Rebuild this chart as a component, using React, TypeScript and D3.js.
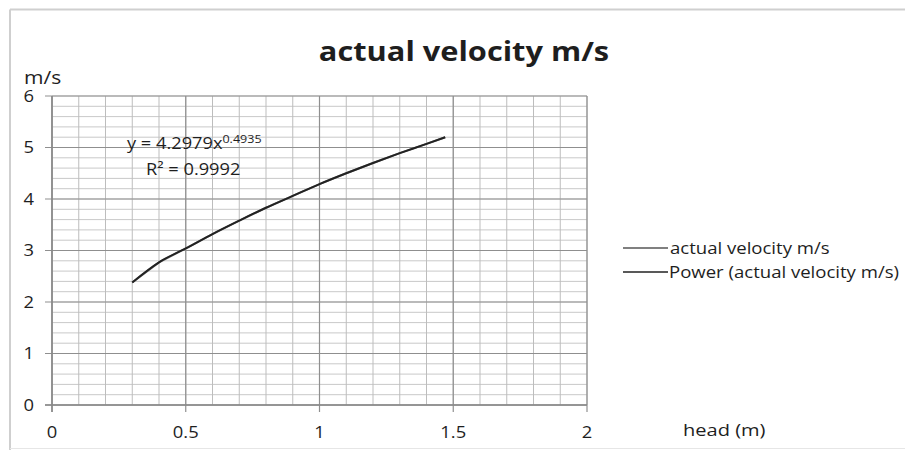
import React from "react";
import * as d3 from "d3";

const headM = [0.3, 0.4, 0.5, 0.6, 0.7, 0.8, 0.9, 1.0, 1.1, 1.2, 1.3, 1.4, 1.47];
const velocity = [2.38, 2.77, 3.04, 3.32, 3.58, 3.83, 4.06, 4.29, 4.5, 4.7, 4.89, 5.07, 5.2];
const xTicks = [0, 0.5, 1, 1.5, 2];
const yTicks = [0, 1, 2, 3, 4, 5, 6];
const xMinor = d3.range(0, 21).map((i) => i / 10);
const yMinor = d3.range(0, 31).map((i) => i / 5);
const seriesNames = ["actual velocity m/s", "Power (actual velocity m/s)"];

const FONT = "'Open Sans', Lato, sans-serif";

function T(props: {
  x: number;
  y: number;
  sx?: number;
  size: number;
  anchor?: string;
  weight?: string;
  children: React.ReactNode;
}) {
  const { x, y, sx = 1.15, size, anchor = "start", weight = "normal", children } = props;
  return (
    <text
      transform={`translate(${x},${y}) scale(${sx},1)`}
      textAnchor={anchor}
      fontSize={size}
      fontWeight={weight}
      fill="#1e1e1e"
    >
      {children}
    </text>
  );
}

export default function App() {
  const x = d3.scaleLinear().domain([0, 2]).range([52, 587]);
  const y = d3.scaleLinear().domain([0, 6]).range([405, 96]);
  const pts = headM.map((h, i) => [h, velocity[i]] as [number, number]);
  const line = d3
    .line<[number, number]>()
    .x((d) => x(d[0]))
    .y((d) => y(d[1]));
  const trend = d3
    .line<[number, number]>()
    .x((d) => x(d[0]))
    .y((d) => y(d[1]))
    .curve(d3.curveMonotoneX);

  return (
    <svg
      width={905}
      height={450}
      style={{ position: "absolute", left: 0, top: 0, background: "#fff" }}
      fontFamily={FONT}
    >
      <rect x={0} y={0} width={905} height={450} fill="#fff" />
      {/* chart area border */}
      <line x1={10} y1={9.5} x2={905} y2={9.5} stroke="#cfcfcf" strokeWidth={2} />
      <line x1={10} y1={9.5} x2={10} y2={450} stroke="#cfcfcf" strokeWidth={2} />
      <line x1={10} y1={448.5} x2={905} y2={448.5} stroke="#e6e6e6" strokeWidth={1} />

      {/* title */}
      <T x={464} y={61} size={27} sx={1.14} anchor="middle" weight="bold">
        actual velocity m/s
      </T>

      {/* minor grid */}
      {yMinor.map((v) => (
        <line key={"ym" + v} x1={x(0)} x2={x(2)} y1={y(v)} y2={y(v)} stroke="#c9c9c9" strokeWidth={1} />
      ))}
      {xMinor.map((v) => (
        <line key={"xm" + v} x1={x(v)} x2={x(v)} y1={y(0)} y2={y(6)} stroke="#bdbdbd" strokeWidth={1} />
      ))}
      {/* major grid */}
      {yTicks.map((v) => (
        <line key={"yM" + v} x1={x(0) - 7} x2={x(2)} y1={y(v)} y2={y(v)} stroke="#8f8f8f" strokeWidth={1.2} />
      ))}
      {xTicks.map((v) => (
        <line key={"xM" + v} x1={x(v)} x2={x(v)} y1={y(0) + 7} y2={y(6)} stroke="#8f8f8f" strokeWidth={1.2} />
      ))}
      {/* axes */}
      <line x1={x(0)} x2={x(0)} y1={y(0) + 7} y2={y(6)} stroke="#888" strokeWidth={1.5} />
      <line x1={x(0) - 7} x2={x(2)} y1={y(0)} y2={y(0)} stroke="#888" strokeWidth={1.5} />

      {/* tick labels */}
      {yTicks.map((v) => (
        <T key={"yl" + v} x={34} y={y(v) + 5.5} size={16} anchor="end">
          {v}
        </T>
      ))}
      {xTicks.map((v) => (
        <T key={"xl" + v} x={x(v)} y={438} size={16} anchor="middle">
          {v}
        </T>
      ))}
      <T x={24} y={84} size={18} sx={1.17}>m/s</T>
      <T x={683} y={436} size={17} sx={1.18}>head (m)</T>

      {/* data series */}
      <path d={line(pts) || ""} fill="none" stroke="#808080" strokeWidth={2} />
      <path d={trend(pts) || ""} fill="none" stroke="#222" strokeWidth={2} />

      {/* equation */}
      <T x={127} y={149} size={16} sx={1.14}>
        y = 4.2979x
        <tspan dy={-6} fontSize={11}>0.4935</tspan>
      </T>
      <T x={146} y={175} size={16} sx={1.14}>
        R² = 0.9992
      </T>

      {/* legend */}
      <line x1={623} x2={668} y1={248} y2={248} stroke="#808080" strokeWidth={2} />
      <T x={670} y={253.5} size={16} sx={1.16}>{seriesNames[0]}</T>
      <line x1={623} x2={668} y1={272} y2={272} stroke="#222" strokeWidth={1.5} />
      <T x={669} y={277.5} size={16} sx={1.16}>{seriesNames[1]}</T>
    </svg>
  );
}
